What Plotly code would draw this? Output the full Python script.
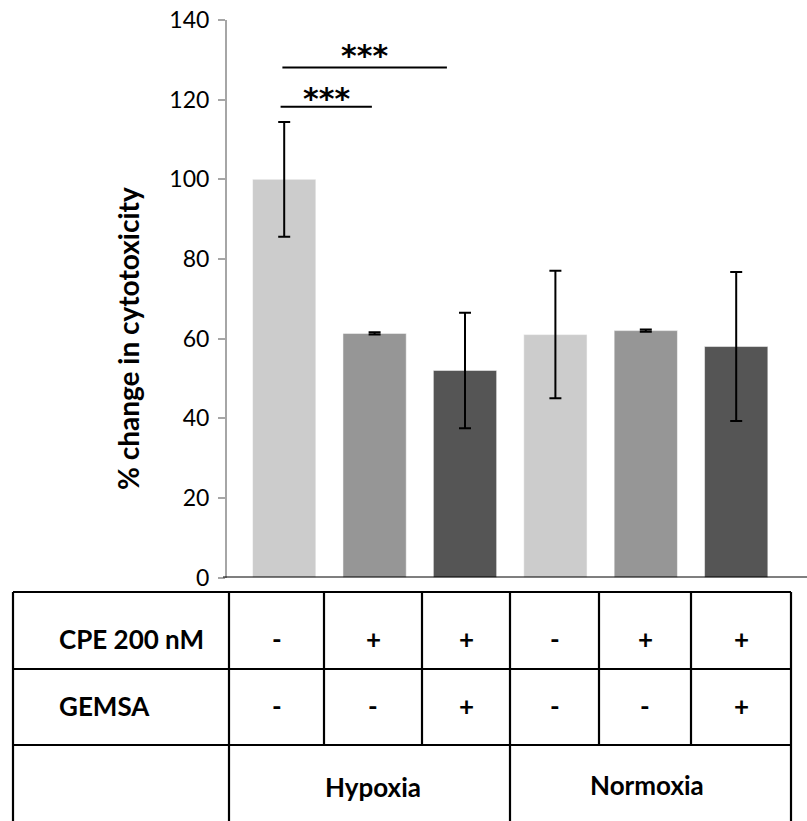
import plotly.graph_objects as go

# ---- data ----
categories = ["Hyp -/-", "Hyp +/-", "Hyp +/+", "Nor -/-", "Nor +/-", "Nor +/+"]
values = [100.0, 61.3, 52.0, 61.0, 62.0, 58.0]
errors = [14.4, 0.3, 14.5, 16.0, 0.3, 18.7]
bar_colors = ["#cccccc", "#969696", "#555555", "#cccccc", "#969696", "#555555"]
cpe_row = ["-", "+", "+", "-", "+", "+"]
gemsa_row = ["-", "-", "+", "-", "-", "+"]
row_labels = ["CPE 200 nM", "GEMSA"]
conditions = ["Hypoxia", "Normoxia"]
# significance brackets: (x start, x end, y level, label)
sig_x0 = [-0.04, -0.02]
sig_x1 = [0.97, 1.80]
sig_y = [118.2, 128.1]
sig_text = ["***", "***"]
y_ticks = [0, 20, 40, 60, 80, 100, 120, 140]

W, H = 807, 821
FONT = "Lato"

def px(x):
    return x / W

def py(y):
    return 1 - y / H

xpos = list(range(len(categories)))

fig = go.Figure()
fig.add_trace(go.Bar(
    x=xpos, y=values,
    marker=dict(color=bar_colors, line=dict(width=1, color="rgba(255,255,255,0.5)")),
    width=0.70,
    error_y=dict(type="data", array=errors, visible=True, color="black",
                 thickness=2, width=6),
    hoverinfo="skip",
))

shapes = []
annotations = []

# significance brackets
for x0, x1, yv, t, ys in zip(sig_x0, sig_x1, sig_y, sig_text, [8, 12]):
    shapes.append(dict(type="line", xref="x", yref="y", x0=x0, x1=x1, y0=yv, y1=yv,
                       line=dict(color="black", width=2)))
    annotations.append(dict(xref="x", yref="y", x=(x0 + x1) / 2, y=yv, text="<b>" + t + "</b>",
                            showarrow=False, yanchor="middle", yshift=ys,
                            font=dict(family="DejaVu Sans", size=30, color="black")))

# table grid (pixel positions)
left, right, top, bottom = 13, 791, 592, 830
row_lines = [669, 745]
col_lines = [229, 324, 422, 510, 599, 691]
lw = 2.2
for y in [top] + row_lines:
    shapes.append(dict(type="line", xref="paper", yref="paper", x0=px(left), x1=px(right),
                       y0=py(y), y1=py(y), line=dict(color="black", width=lw)))
shapes.append(dict(type="line", xref="paper", yref="paper", x0=px(left), x1=px(left),
                   y0=py(top), y1=py(bottom), line=dict(color="black", width=lw)))
shapes.append(dict(type="line", xref="paper", yref="paper", x0=px(right), x1=px(right),
                   y0=py(top), y1=py(bottom), line=dict(color="black", width=lw)))
for i, c in enumerate(col_lines):
    y_end = bottom if c in (229, 510) else row_lines[1]
    shapes.append(dict(type="line", xref="paper", yref="paper", x0=px(c), x1=px(c),
                       y0=py(top), y1=py(y_end), line=dict(color="black", width=lw)))

edges = col_lines + [right]
centers = [(edges[i] + edges[i + 1]) / 2 for i in range(len(categories))]
row_cy = [639, 706]
for lab, cy in zip(row_labels, row_cy):
    annotations.append(dict(xref="paper", yref="paper", x=px(57), y=py(cy), text="<b>" + lab + "</b>",
                            showarrow=False, xanchor="left", yanchor="middle",
                            font=dict(family=FONT, size=26, color="black")))
for row, cy in zip([cpe_row, gemsa_row], row_cy):
    for s, cx in zip(row, centers):
        annotations.append(dict(xref="paper", yref="paper", x=px(cx), y=py(cy), text="<b>" + s + "</b>",
                                showarrow=False, xanchor="center", yanchor="middle",
                                font=dict(family=FONT, size=26, color="black")))
cond_cx = [(229 + 510) / 2 + 3, (510 + 791) / 2 - 4]
for cnd, cx, cy in zip(conditions, cond_cx, [787, 785]):
    annotations.append(dict(xref="paper", yref="paper", x=px(cx), y=py(cy), text="<b>" + cnd + "</b>",
                            showarrow=False, xanchor="center", yanchor="middle",
                            font=dict(family=FONT, size=26, color="black")))

# y-axis title
annotations.append(dict(xref="paper", yref="paper", x=px(128), y=py(339),
                        text="<b>% change in cytotoxicity</b>", textangle=-90, showarrow=False,
                        xanchor="center", yanchor="middle",
                        font=dict(family=FONT, size=28, color="black")))

# x-axis baseline
shapes.append(dict(type="line", xref="paper", yref="y", x0=px(223), x1=1, y0=0, y1=0,
                   line=dict(color="black", width=2.2)))

x0_val = (227 - 284.2) / 90.4
x1_val = (807 - 284.2) / 90.4

fig.update_layout(
    width=W, height=H,
    margin=dict(l=0, r=0, t=0, b=0, autoexpand=False),
    paper_bgcolor="white", plot_bgcolor="white",
    showlegend=False,
    bargap=0.3,
    xaxis=dict(domain=[px(227), 1], range=[x0_val, x1_val], showticklabels=False,
               showgrid=False, zeroline=False, showline=False, ticks="", automargin=False),
    yaxis=dict(domain=[py(577.5), py(20)], range=[0, 140], tickvals=y_ticks, automargin=False,
               showgrid=False, zeroline=False, showline=True, linecolor="#a6a6a6", linewidth=2,
               ticks="outside", ticklen=7, tickcolor="#a6a6a6", tickwidth=1.5,
               tickfont=dict(family=FONT, size=23, color="black"), ticklabelstandoff=4),
    shapes=shapes,
    annotations=annotations,
)

fig.write_html("out.html", config={"displayModeBar": False},
               post_script="document.body.style.margin='0px';")
